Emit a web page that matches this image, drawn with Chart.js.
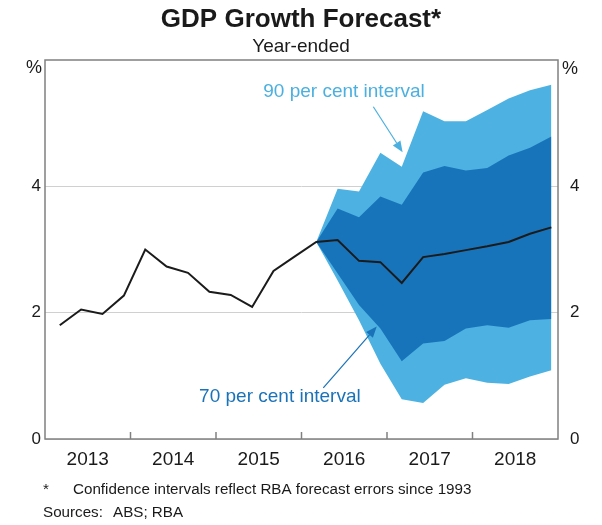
<!DOCTYPE html>
<html><head><meta charset="utf-8">
<script src="https://cdn.jsdelivr.net/npm/chart.js@4.4.1/dist/chart.umd.min.js"></script>
<style>html,body{margin:0;padding:0;background:#fff;}#wrap{width:602px;height:525px;}</style>
</head><body><div id="wrap"><canvas id="c" width="602" height="525"></canvas></div>
<script>
// ---- Data ----
const quarters = ['2013Q1','2013Q2','2013Q3','2013Q4','2014Q1','2014Q2','2014Q3','2014Q4',
  '2015Q1','2015Q2','2015Q3','2015Q4','2016Q1','2016Q2','2016Q3','2016Q4',
  '2017Q1','2017Q2','2017Q3','2017Q4','2018Q1','2018Q2','2018Q3','2018Q4'];
const years = ['2013','2014','2015','2016','2017','2018'];
const gdp = [1.80,2.05,1.98,2.27,3.00,2.73,2.63,2.33,2.28,2.09,2.66,2.89,
             3.12,3.15,2.82,2.80,2.47,2.88,2.93,2.99,3.05,3.12,3.25,3.35];
const forecastStart = 12; // index in quarters where the fan begins
const upper90 = [3.12,3.96,3.92,4.53,4.31,5.19,5.03,5.03,5.21,5.39,5.52,5.61];
const upper70 = [3.12,3.65,3.51,3.84,3.71,4.22,4.32,4.25,4.29,4.49,4.61,4.79];
const lower70 = [3.12,2.62,2.12,1.75,1.23,1.51,1.55,1.75,1.80,1.76,1.88,1.90];
const lower90 = [3.12,2.51,1.88,1.19,0.63,0.57,0.86,0.96,0.89,0.87,0.99,1.09];
const yTicks = [0,2,4];

// ---- Styling / layout ----
const FONT = '"Liberation Sans", Arial, sans-serif';
const LIGHT = '#4db2e2', DARK = '#1874ba';
const xOffset = 0.69;               // quarter offset of first point inside axis
const xMin = -xOffset, xMax = quarters.length - xOffset;
const annotations = [
  {text:'90 per cent interval', color:'#4bb0e0', x:13.30, y:5.49, arrow:{x1:14.67,y1:5.26,x2:16.04,y2:4.54}},
  {text:'70 per cent interval', color:'#1a72b8', x:10.30, y:0.67, arrow:{x1:12.33,y1:0.81,x2:14.83,y2:1.78}}
];

const toXY = (arr, start) => arr.map((v,i)=>({x:i+start, y:v}));

const extras = {
  id:'extras',
  afterDatasetsDraw(chart){
    const {ctx, chartArea:a, scales:{x,y}} = chart;
    ctx.save();
    // frame
    ctx.strokeStyle = '#808080'; ctx.lineWidth = 1.5;
    ctx.strokeRect(a.left, a.top, a.right-a.left, a.bottom-a.top);
    // year boundary ticks (inside)
    for (let i=1;i<years.length;i++){
      const px = x.getPixelForValue(xMin + 4*i);
      ctx.beginPath(); ctx.moveTo(px, a.bottom); ctx.lineTo(px, a.bottom-7); ctx.stroke();
    }
    // annotations
    annotations.forEach(an=>{
      ctx.fillStyle = an.color; ctx.strokeStyle = an.color;
      ctx.font = '19px '+FONT; ctx.textAlign='center'; ctx.textBaseline='middle';
      ctx.fillText(an.text, x.getPixelForValue(an.x), y.getPixelForValue(an.y));
      const x1=x.getPixelForValue(an.arrow.x1), y1=y.getPixelForValue(an.arrow.y1);
      const x2=x.getPixelForValue(an.arrow.x2), y2=y.getPixelForValue(an.arrow.y2);
      const ang = Math.atan2(y2-y1, x2-x1), hl=11, hw=4.5;
      const bx = x2 - hl*Math.cos(ang), by = y2 - hl*Math.sin(ang);
      ctx.lineWidth = 1.2;
      ctx.beginPath(); ctx.moveTo(x1,y1); ctx.lineTo(bx,by); ctx.stroke();
      ctx.beginPath(); ctx.moveTo(x2,y2);
      ctx.lineTo(bx + hw*Math.sin(ang), by - hw*Math.cos(ang));
      ctx.lineTo(bx - hw*Math.sin(ang), by + hw*Math.cos(ang));
      ctx.closePath(); ctx.fill();
    });
    ctx.restore();
  },
  afterDraw(chart){
    const {ctx} = chart;
    ctx.save();
    ctx.fillStyle = '#1a1a1a';
    ctx.textAlign='center'; ctx.textBaseline='alphabetic';
    ctx.font = 'bold 26px '+FONT;
    ctx.fillText('GDP Growth Forecast*', 301, 27);
    ctx.font = '19px '+FONT;
    ctx.fillText('Year-ended', 301, 52);
    ctx.font = '18px '+FONT; ctx.textBaseline='middle';
    ctx.fillText('%', 34, 68);
    ctx.fillText('%', 570, 69);
    ctx.textAlign='left'; ctx.textBaseline='alphabetic';
    ctx.font = '15.2px '+FONT;
    ctx.fillText('*', 43, 494);
    ctx.fillText('Confidence intervals reflect RBA forecast errors since 1993', 73, 494);
    ctx.fillText('Sources:', 43, 517);
    ctx.fillText('ABS; RBA', 113, 517);
    ctx.restore();
  }
};

const yAxisCommon = {
  type:'linear', min:0, max:6,
  afterBuildTicks: s => { s.ticks = yTicks.map(v=>({value:v})); },
  ticks:{ font:{family:FONT, size:17}, color:'#1a1a1a', padding:4 },
  border:{display:false}
};

new Chart(document.getElementById('c'), {
  type:'line',
  data:{
    datasets:[
      {label:'90 upper', data:toXY(upper90, forecastStart), fill:'+1', backgroundColor:LIGHT, borderWidth:0, pointRadius:0, order:2},
      {label:'90 lower', data:toXY(lower90, forecastStart), fill:false, borderWidth:0, pointRadius:0, order:2},
      {label:'70 upper', data:toXY(upper70, forecastStart), fill:'+1', backgroundColor:DARK, borderWidth:0, pointRadius:0, order:1},
      {label:'70 lower', data:toXY(lower70, forecastStart), fill:false, borderWidth:0, pointRadius:0, order:1},
      {label:'GDP', data:toXY(gdp, 0), fill:false, borderColor:'#1b1b1b', borderWidth:2, pointRadius:0, tension:0, order:0}
    ]
  },
  options:{
    responsive:false, animation:false, devicePixelRatio:1,
    layout:{padding:{top:60, left:0, right:0, bottom:0}},
    plugins:{legend:{display:false}, tooltip:{enabled:false}, title:{display:false}},
    elements:{line:{borderJoinStyle:'miter'}},
    scales:{
      x:{
        type:'linear', position:'bottom', min:xMin, max:xMax,
        afterBuildTicks: s => { s.ticks = years.map((yr,i)=>({value: xMin + 4*i + 2})); },
        ticks:{ callback:(v,i)=>years[i], font:{family:FONT, size:19}, color:'#1a1a1a', padding:1, maxRotation:0, autoSkip:false },
        grid:{display:false}, border:{display:false},
        afterFit: s => { s.height = 86; }
      },
      y:Object.assign({}, yAxisCommon, {
        position:'left',
        grid:{color:'#d0d0d0', lineWidth:1, drawTicks:false},
        afterFit: s => { s.width = 45; }
      }),
      y2:Object.assign({}, yAxisCommon, {
        position:'right',
        grid:{display:false},
        afterFit: s => { s.width = 44; }
      })
    }
  },
  plugins:[extras]
});
</script>
</body></html>
